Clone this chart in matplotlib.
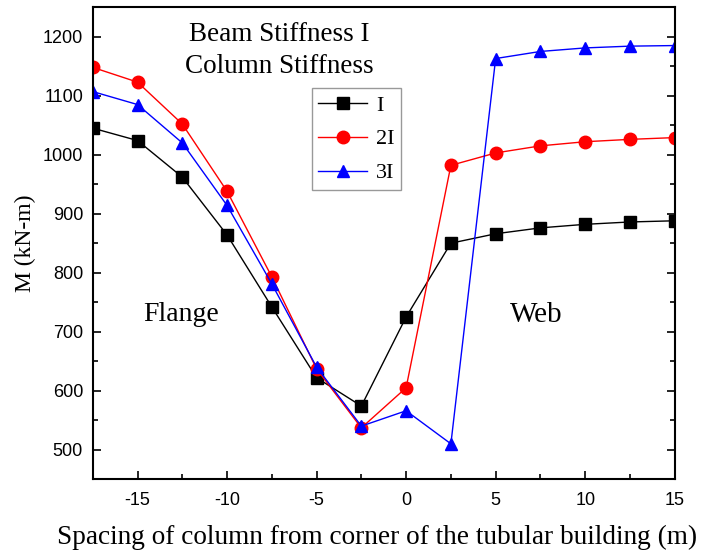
import numpy as np
import matplotlib.pyplot as plt
from matplotlib.ticker import MultipleLocator

spacing = [-17.5, -15, -12.5, -10, -7.5, -5, -2.5, 0, 2.5, 5, 7.5, 10, 12.5, 15]
m_1i = [1045, 1024, 962, 864, 742, 622, 574, 725, 850, 866, 876, 882, 886, 888]
m_2i = [1148, 1123, 1052, 938, 793, 637, 537, 605, 982, 1003, 1015, 1022, 1026, 1029]
m_3i = [1107, 1085, 1020, 914, 781, 640, 540, 566, 510, 1163, 1175, 1181, 1184, 1185]
series_labels = ["I", "2I", "3I"]

serif = "Liberation Serif"
sans = "Liberation Sans"
plt.rcParams['axes.unicode_minus'] = False

fig = plt.figure(figsize=(7.08, 5.54), dpi=100)
ax = fig.add_axes([0.131, 0.135, 0.822, 0.852])

ax.plot(spacing, m_1i, color="black", marker="s", markersize=8, linewidth=1, label=series_labels[0])
ax.plot(spacing, m_2i, color="red", marker="o", markersize=9, linewidth=1, label=series_labels[1])
ax.plot(spacing, m_3i, color="blue", marker="^", markersize=9, linewidth=1, label=series_labels[2])

ax.set_xlim(-17.5, 15)
ax.set_ylim(450, 1250)
ax.xaxis.set_major_locator(MultipleLocator(5))
ax.xaxis.set_minor_locator(MultipleLocator(2.5))
ax.yaxis.set_major_locator(MultipleLocator(100))
ax.yaxis.set_minor_locator(MultipleLocator(50))
ax.tick_params(which="both", direction="in", left=True, right=True, top=False)
ax.tick_params(which="major", length=6, width=1.2)
ax.tick_params(which="minor", length=3.5, width=1.2)
ax.tick_params(axis="x", which="major", pad=9)
ax.tick_params(axis="y", which="major", pad=7)
for lab in ax.get_xticklabels() + ax.get_yticklabels():
    lab.set_fontfamily(sans)
    lab.set_fontsize(13)
for sp in ax.spines.values():
    sp.set_linewidth(1.5)

ax.set_xlabel("Spacing of column from corner of the tubular building (m)", fontfamily=serif, fontsize=19.6)
ax.xaxis.set_label_coords(0.489, -0.097)
ax.set_ylabel("M (kN-m)", fontfamily=serif, fontsize=17, labelpad=5)

ax.text(-7.06, 1203, "Beam Stiffness I", fontfamily=serif, fontsize=19.5, ha="center", va="center")
ax.text(-7.06, 1149, "Column Stiffness", fontfamily=serif, fontsize=19.5, ha="center", va="center")
ax.text(-12.55, 730, "Flange", fontfamily=serif, fontsize=20, ha="center", va="center")
ax.text(7.28, 728, "Web", fontfamily=serif, fontsize=21, ha="center", va="center")

leg = ax.legend(loc="upper left", bbox_to_anchor=(0.376, 0.828), prop={"family": serif, "size": 16},
                frameon=True, fancybox=False, edgecolor="gray", handlelength=2.2,
                handletextpad=0.4, borderpad=0.3, labelspacing=0.6, borderaxespad=0)
leg.get_frame().set_linewidth(1)

fig.savefig("out.png", dpi=100)
